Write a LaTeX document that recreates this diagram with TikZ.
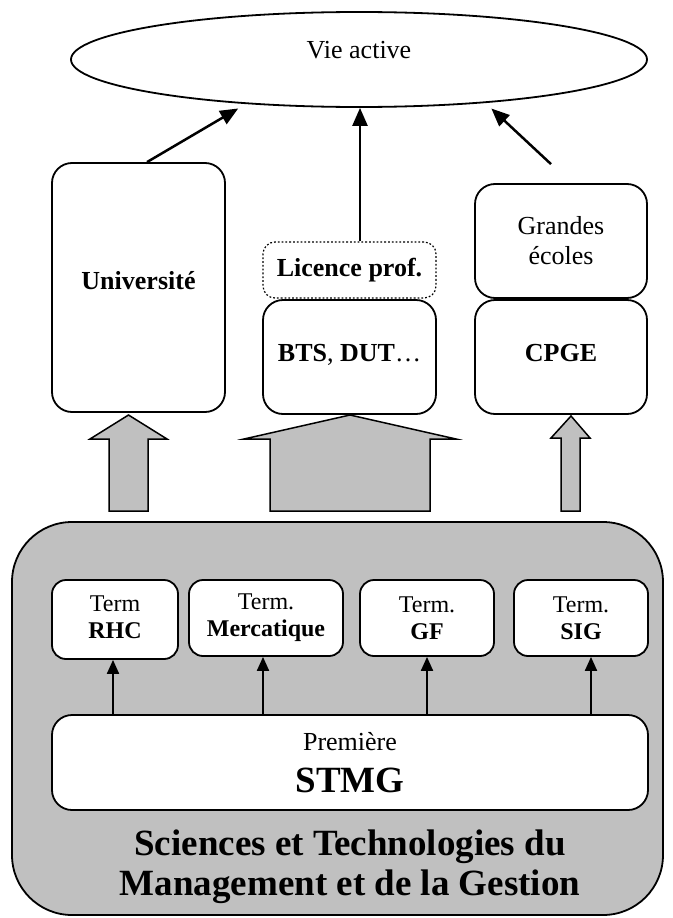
\documentclass[tikz,border=0pt]{standalone}
\usepackage{fontspec}
\setmainfont{Liberation Serif}
\usetikzlibrary{shapes.geometric,arrows.meta}
\definecolor{silverg}{RGB}{192,192,192}
\begin{document}
\begin{tikzpicture}[x=1pt,y=-1pt,
  box/.style={draw,line width=1.8pt,rounded corners=20pt,fill=white,inner sep=0pt,align=center,font=\fontsize{26}{30}\selectfont},
  termbox/.style={draw,line width=1.8pt,rounded corners=14pt,fill=white,inner sep=0pt,align=center,font=\fontsize{24}{27}\selectfont},
  toparrow/.style={line width=2.5pt,-{Triangle[length=18pt,width=15pt]}},
  tarrow/.style={line width=2pt,-{Triangle[length=14pt,width=12pt]}},
  blockarrow/.style={draw,fill=silverg,line width=1.5pt,line join=miter}
]
\useasboundingbox (0,0) rectangle (672,918);

% top ellipse
\node[ellipse,draw,line width=1.8pt,minimum width=576pt,minimum height=95pt,inner sep=0pt,
      font=\fontsize{26}{30}\selectfont] (vie) at (359,59.5) {\raisebox{20pt}{Vie active}};

% upper boxes
\node[box,minimum width=173pt,minimum height=249pt] (univ) at (138.5,287.5) {\raisebox{14pt}{\bfseries Université}};
\node[box,dotted,line width=1.2pt,rounded corners=12pt,minimum width=173pt,minimum height=56pt] (lic) at (349.5,270) {\bfseries Licence prof.};
\node[box,minimum width=173pt,minimum height=114pt] (bts) at (349.5,357) {\raisebox{8pt}{\textbf{BTS}, \textbf{DUT}…}};
\node[box,minimum width=172pt,minimum height=114pt] (ge) at (561,241) {Grandes\\écoles};
\node[box,minimum width=172pt,minimum height=114pt] (cpge) at (561,357) {\raisebox{8pt}{\bfseries CPGE}};

% arrows to ellipse
\coordinate (ut) at ([xshift=8.5pt]univ.north);
\coordinate (gt) at ([xshift=-10pt,yshift=19pt]ge.north);
\draw[toparrow] (ut) -- ([yshift=-5pt]vie.200);
\draw[toparrow] ([xshift=1pt]lic.north -| vie.south) -- ([xshift=1pt]vie.south);
\draw[toparrow] (gt) -- ([yshift=-6pt]vie.342.9);

% block arrows
\draw[blockarrow] (128.5,415) -- (167,439) -- (148,439) -- (148,511) -- (109,511) -- (109,439) -- (90,439) -- cycle;
\draw[blockarrow] (350,415) -- (456,439) -- (430,439) -- (430,511) -- (270,511) -- (270,439) -- (244,439) -- cycle;
\draw[blockarrow] (571,416) -- (590,438) -- (580,438) -- (580,511) -- (561,511) -- (561,438) -- (551,438) -- cycle;

% big grey box
\node[draw,fill=silverg,line width=1.8pt,rounded corners=60pt,minimum width=651pt,minimum height=393pt,inner sep=0pt] (stmg) at (337.5,718.5) {};

% terminal boxes
\node[termbox,minimum width=126pt,minimum height=79pt] (rhc) at (115,619.5)
  {\raisebox{-22pt}{\begin{tabular}{@{}c@{}}Term\\\textbf{RHC}\end{tabular}}};
\node[termbox,minimum width=154pt,minimum height=76pt] (merc) at (266,618) {Term.\\\textbf{Mercatique}};
\node[termbox,minimum width=134pt,minimum height=76pt] (gf) at (427,618) {Term.\\\textbf{GF}};
\node[termbox,minimum width=134pt,minimum height=76pt] (sig) at (581,618) {Term.\\\textbf{SIG}};

% premiere
\node[draw,line width=1.8pt,rounded corners=20pt,fill=white,inner sep=0pt,align=center,
      font=\fontsize{26}{30}\selectfont,
      minimum width=596pt,minimum height=95pt] (prem) at (350,762.5)
      {Première\\[12pt]{\fontsize{37}{42}\selectfont\bfseries STMG}};

% arrows premiere -> terminal
\coordinate (a1) at ([xshift=-2pt]rhc.south);
\coordinate (a2) at ([xshift=-3pt]merc.south);
\coordinate (a3) at (gf.south);
\coordinate (a4) at ([xshift=10pt]sig.south);
\draw[tarrow] (a1 |- prem.north) -- (a1);
\draw[tarrow] (a2 |- prem.north) -- (a2);
\draw[tarrow] (a3 |- prem.north) -- (a3);
\draw[tarrow] (a4 |- prem.north) -- (a4);

% title
\node[font=\fontsize{37}{40}\selectfont\bfseries,align=center,inner sep=0pt] (title) at (350,867)
  {Sciences et Technologies du\\Management et de la Gestion};
\end{tikzpicture}
\end{document}
